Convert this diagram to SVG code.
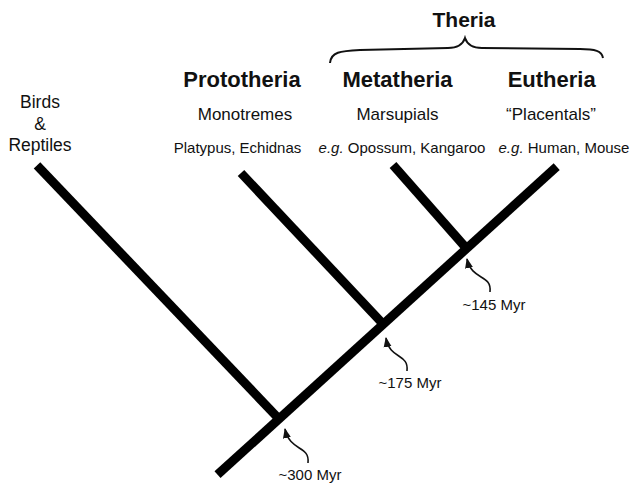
<svg xmlns="http://www.w3.org/2000/svg" width="633" height="486" viewBox="0 0 633 486">
<style>
text{font-family:"Liberation Sans",Arial,sans-serif;fill:#111;text-anchor:middle}
.h{font-weight:bold;font-size:22px}
.s{font-size:17px}
.b{font-size:17.5px}
.e{font-size:15px}
.m{font-size:15px}
.br{stroke:#000;stroke-width:9;fill:none;stroke-linecap:butt}
.ar{stroke:#111;stroke-width:1.6;fill:none}
</style>
<defs>
<marker id="ah" markerUnits="userSpaceOnUse" markerWidth="10" markerHeight="10" viewBox="0 0 10 10" refX="9" refY="5" orient="auto">
<path d="M0,1 L10,5 L0,9 Z" fill="#111"/>
</marker>
</defs>
<g id="connectors">
<line class="br" x1="217.5" y1="474.7" x2="556.7" y2="166.7"/>
<line class="br" x1="37" y1="165.3" x2="280" y2="420"/>
<line class="br" x1="241" y1="173" x2="384" y2="325"/>
<line class="br" x1="393" y1="165" x2="467" y2="249"/>
<path class="ar" d="M308,463 C310,445 290,452 285,429" marker-end="url(#ah)"/>
<path class="ar" d="M407,371 C409,353 390,360 386,338" marker-end="url(#ah)"/>
<path class="ar" d="M490,292 C492,274 472,281 467,259" marker-end="url(#ah)"/>
</g>
<g id="theria">
<text class="h" x="464" y="27" style="font-size:21px">Theria</text>
<path d="M330,63 C331,52 340,51 360,50 L448,48 C458,48 463,44 465,38 C467,44 472,48 482,48 L580,49 C595,49 602,51 603,58" fill="none" stroke="#111" stroke-width="2"/>
</g>
<g id="birds">
<text class="b" x="40" y="108">Birds</text>
<text class="b" x="40" y="130">&amp;</text>
<text class="b" x="40" y="151">Reptiles</text>
</g>
<g id="prototheria">
<text class="h" x="242" y="87">Prototheria</text>
<text class="s" x="245" y="120">Monotremes</text>
<text class="e" x="237.5" y="153">Platypus, Echidnas</text>
</g>
<g id="metatheria">
<text class="h" x="397.5" y="87">Metatheria</text>
<text class="s" x="397.5" y="120">Marsupials</text>
<text class="e" x="402" y="153"><tspan font-style="italic">e.g.</tspan> Opossum, Kangaroo</text>
</g>
<g id="eutheria">
<text class="h" x="551.7" y="87">Eutheria</text>
<text class="s" x="551" y="120">“Placentals”</text>
<text class="e" x="564" y="153"><tspan font-style="italic">e.g.</tspan> Human, Mouse</text>
</g>
<g id="node-300"><text class="m" x="310" y="480">~300 Myr</text></g>
<g id="node-175"><text class="m" x="410" y="388">~175 Myr</text></g>
<g id="node-145"><text class="m" x="494" y="310">~145 Myr</text></g>
</svg>
